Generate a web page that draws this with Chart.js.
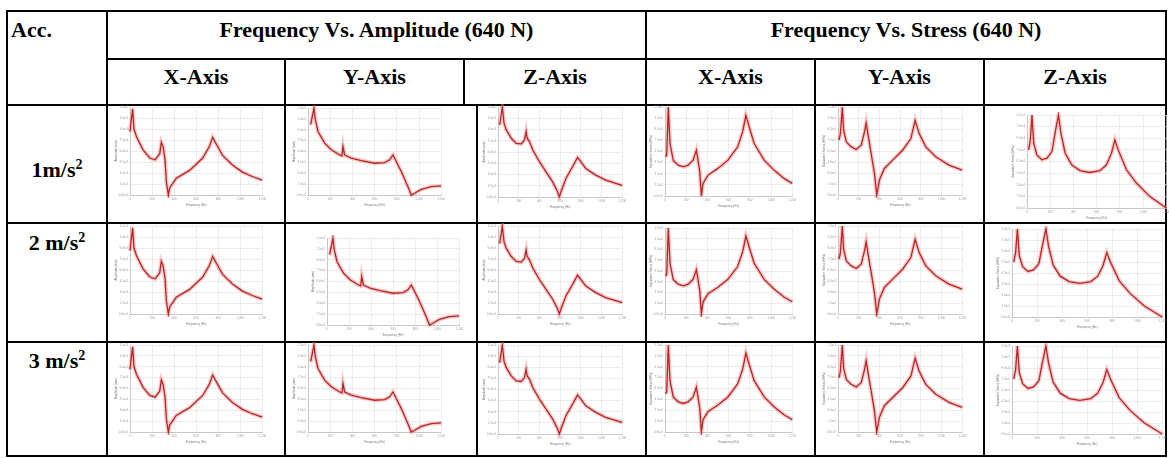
<!DOCTYPE html>
<html>
<head>
<meta charset="utf-8">
<script src="https://cdn.jsdelivr.net/npm/chart.js@4.4.1/dist/chart.umd.min.js"></script>
<style>
  html, body { margin:0; padding:0; background:#fff; }
  #page { position:relative; width:1169px; height:458px; overflow:hidden; background:#fff; }
  .ln { position:absolute; background:#000; }
  .t { position:absolute; font-family:"Liberation Serif","Times New Roman",serif; font-weight:bold; font-size:22px; color:#000; white-space:nowrap; line-height:1; }
  .c { text-align:center; }
  sup { font-size:14px; vertical-align:0; position:relative; top:-8px; }
  canvas { position:absolute; }
</style>
</head>
<body>
<div id="page"></div>
<script>
// ---------- text ----------
const headerTop = ["Frequency Vs. Amplitude (640 N)", "Frequency Vs. Stress (640 N)"];
const axisHeaders = ["X-Axis", "Y-Axis", "Z-Axis", "X-Axis", "Y-Axis", "Z-Axis"];
const accLabels = ["1m/s", "2 m/s", "3 m/s"];

// ---------- curve data (frequency in Hz, response normalised to plot height) ----------
const freqXA = [0, 24, 36, 60, 120, 180, 228, 270, 284, 300, 318, 330, 348, 360, 420, 540, 660, 720, 750, 780, 840, 930, 1020, 1110, 1200];
const valXA  = [0.72, 0.98, 0.75, 0.66, 0.51, 0.42, 0.40, 0.47, 0.60, 0.55, 0.40, 0.15, 0.00, 0.08, 0.19, 0.28, 0.42, 0.55, 0.655, 0.585, 0.45, 0.34, 0.26, 0.21, 0.17];

const freqYA = [24, 54, 66, 90, 150, 210, 285, 306, 315, 330, 390, 480, 600, 690, 735, 765, 780, 840, 900, 930, 960, 1020, 1110, 1200];
const valYA  = [0.81, 1.00, 0.865, 0.73, 0.596, 0.52, 0.46, 0.45, 0.558, 0.46, 0.423, 0.396, 0.365, 0.373, 0.404, 0.46, 0.423, 0.27, 0.096, 0.00, 0.02, 0.065, 0.096, 0.104];

const freqZA = [16, 42, 58, 80, 128, 176, 224, 256, 272, 282, 304, 336, 400, 464, 528, 576, 592, 608, 656, 720, 768, 800, 848, 944, 1040, 1200];
const valZA  = [0.80, 1.00, 0.82, 0.746, 0.653, 0.597, 0.59, 0.634, 0.728, 0.653, 0.616, 0.522, 0.392, 0.28, 0.168, 0.056, 0.00, 0.056, 0.205, 0.336, 0.44, 0.392, 0.317, 0.243, 0.187, 0.13];

const freqXS = [6, 16, 31, 47, 78, 125, 172, 218, 265, 296, 306, 328, 343, 359, 406, 499, 593, 685, 732, 763, 794, 841, 935, 1028, 1122, 1200];
const valXS  = [0.44, 0.46, 1.00, 0.59, 0.40, 0.347, 0.328, 0.347, 0.403, 0.515, 0.44, 0.272, 0.00, 0.142, 0.235, 0.31, 0.403, 0.552, 0.72, 0.907, 0.776, 0.59, 0.403, 0.291, 0.198, 0.142];

const freqYS = [10, 23, 42, 54, 80, 128, 176, 224, 256, 272, 288, 320, 352, 374, 400, 448, 528, 624, 704, 745, 784, 848, 944, 1072, 1200];
const valYS  = [0.623, 0.698, 1.00, 0.736, 0.604, 0.547, 0.517, 0.566, 0.717, 0.819, 0.698, 0.472, 0.245, 0.00, 0.17, 0.302, 0.396, 0.509, 0.642, 0.849, 0.698, 0.547, 0.434, 0.34, 0.283];

const freqZS = [14, 29, 43, 58, 85, 128, 172, 215, 242, 271, 292, 329, 385, 457, 542, 629, 685, 728, 757, 786, 857, 943, 1057, 1200];
const valZS  = [0.625, 0.732, 1.00, 0.696, 0.571, 0.518, 0.536, 0.607, 0.804, 1.00, 0.804, 0.589, 0.464, 0.402, 0.382, 0.402, 0.464, 0.589, 0.732, 0.625, 0.411, 0.268, 0.125, 0.00];

const xTicks = [0, 200, 400, 600, 800, 1000, 1200];
const yTicks = [0, 0.125, 0.25, 0.375, 0.5, 0.625, 0.75, 0.875, 1];

// ---------- layout ----------
const page = document.getElementById('page');
function line(x, y, w, h) { const d = document.createElement('div'); d.className = 'ln'; Object.assign(d.style, {left:x+'px', top:y+'px', width:w+'px', height:h+'px'}); page.appendChild(d); }
function text(str, x, y, w, cls, sup) {
  const d = document.createElement('div'); d.className = 't ' + (cls||'');
  d.style.left = x + 'px'; d.style.top = y + 'px'; if (w) d.style.width = w + 'px';
  d.textContent = str;
  if (sup) { const s = document.createElement('sup'); s.textContent = sup; d.appendChild(s); }
  page.appendChild(d);
}
const headX = [6, 106, 284, 463, 645, 814, 983, 1165];
// horizontal lines
line(6, 10, 1161, 2);
line(106, 58, 1061, 2);
line(6, 104, 1161, 2);
line(6, 222, 1161, 2);
line(6, 341, 1161, 2);
line(6, 455, 1161, 2);
// vertical lines
line(6, 10, 2, 447);
line(106, 10, 2, 447);
line(645, 10, 2, 447);
line(1165, 10, 2, 447);
[284, 814, 983].forEach(x => line(x, 58, 2, 399));
line(463, 58, 2, 47);
line(476, 104, 2, 353);

text("Acc.", 11, 19, 0);
text(headerTop[0], 108, 19, 537, 'c');
text(headerTop[1], 647, 19, 518, 'c');
for (let i = 0; i < 6; i++) text(axisHeaders[i], headX[i+1] + 2, 66, headX[i+2] - headX[i+1] - 2, 'c');
text(accLabels[0], 8, 159, 98, 'c', '2');
text(accLabels[1], 8, 232, 98, 'c', '2');
text(accLabels[2], 8, 350, 98, 'c', '2');

// ---------- charts ----------
const series = {
  XA: [freqXA, valXA, 'Amplitude (mm)'],
  YA: [freqYA, valYA, 'Amplitude (mm)'],
  ZA: [freqZA, valZA, 'Amplitude (mm)'],
  XS: [freqXS, valXS, 'Equivalent Stress (MPa)'],
  YS: [freqYS, valYS, 'Equivalent Stress (MPa)'],
  ZS: [freqZS, valZS, 'Equivalent Stress (MPa)']
};
// plot areas [left, top, right, bottom]
const plots = [
  ['XA', 130, 107, 263, 195], ['YA', 308, 108, 442, 195], ['ZA', 498, 107, 623, 197],
  ['XS', 665, 107, 793, 196], ['YS', 838, 107, 963, 195], ['ZS', 1027, 115, 1167, 208],
  ['XA', 130, 226, 263, 314], ['YA', 327, 238, 460, 325], ['ZA', 498, 226, 623, 314],
  ['XS', 665, 228, 793, 314], ['YS', 838, 226, 963, 314], ['ZS', 1012, 229, 1163, 317],
  ['XA', 130, 345, 263, 432], ['YA', 308, 345, 442, 432], ['ZA', 498, 345, 623, 434],
  ['XS', 665, 345, 793, 432], ['YS', 838, 345, 963, 432], ['ZS', 1012, 346, 1163, 434]
];
const YW = 16, XH = 13, PT = 3, PR = 4;
plots.forEach(([key, l, t, r, b]) => {
  const [fx, vy, ytitle] = series[key];
  const pts = fx.map((f, i) => ({x: f, y: vy[i]}));
  const cv = document.createElement('canvas');
  const w = (r - l) + YW + PR, h = (b - t) + XH + PT;
  cv.width = w; cv.height = h;
  cv.style.left = (l - YW) + 'px'; cv.style.top = (t - PT) + 'px';
  cv.style.width = w + 'px'; cv.style.height = h + 'px';
  page.appendChild(cv);
  new Chart(cv, {
    type: 'line',
    data: { datasets: [
      { data: pts, borderColor: '#b32626', borderWidth: 1.3, pointRadius: 0, tension: 0, clip: 3 },
      { data: pts, borderColor: 'rgba(245,120,120,0.40)', borderWidth: 4, pointRadius: 0, tension: 0, clip: 3 }
    ]},
    options: {
      animation: false, responsive: false, devicePixelRatio: 1,
      events: [],
      plugins: { legend: { display: false }, tooltip: { enabled: false } },
      layout: { padding: { top: PT, right: PR, left: 0, bottom: 0 } },
      scales: {
        x: {
          type: 'linear', min: 0, max: 1200,
          afterBuildTicks: s => { s.ticks = xTicks.map(v => ({value: v})); },
          ticks: { font: { size: 3 }, color: '#9a9a9a', padding: 1, maxRotation: 0, autoSkip: false },
          grid: { color: '#e4e4e4', lineWidth: 0.7, tickLength: 1 },
          border: { color: '#c8c8c8' },
          title: { display: true, text: 'Frequency (Hz)', font: { size: 3 }, color: '#777', padding: 1 },
          afterFit: s => { s.height = XH; }
        },
        y: {
          min: 0, max: 1,
          afterBuildTicks: s => { s.ticks = yTicks.map(v => ({value: v})); },
          ticks: { font: { size: 3 }, color: '#9a9a9a', padding: 1, callback: v => (v * 0.0012).toExponential(1) },
          grid: { color: '#e4e4e4', lineWidth: 0.7, tickLength: 1 },
          border: { color: '#c8c8c8' },
          title: { display: true, text: ytitle, font: { size: 3 }, color: '#777', padding: 0 },
          afterFit: s => { s.width = YW; }
        }
      }
    }
  });
});
</script>
</body>
</html>
